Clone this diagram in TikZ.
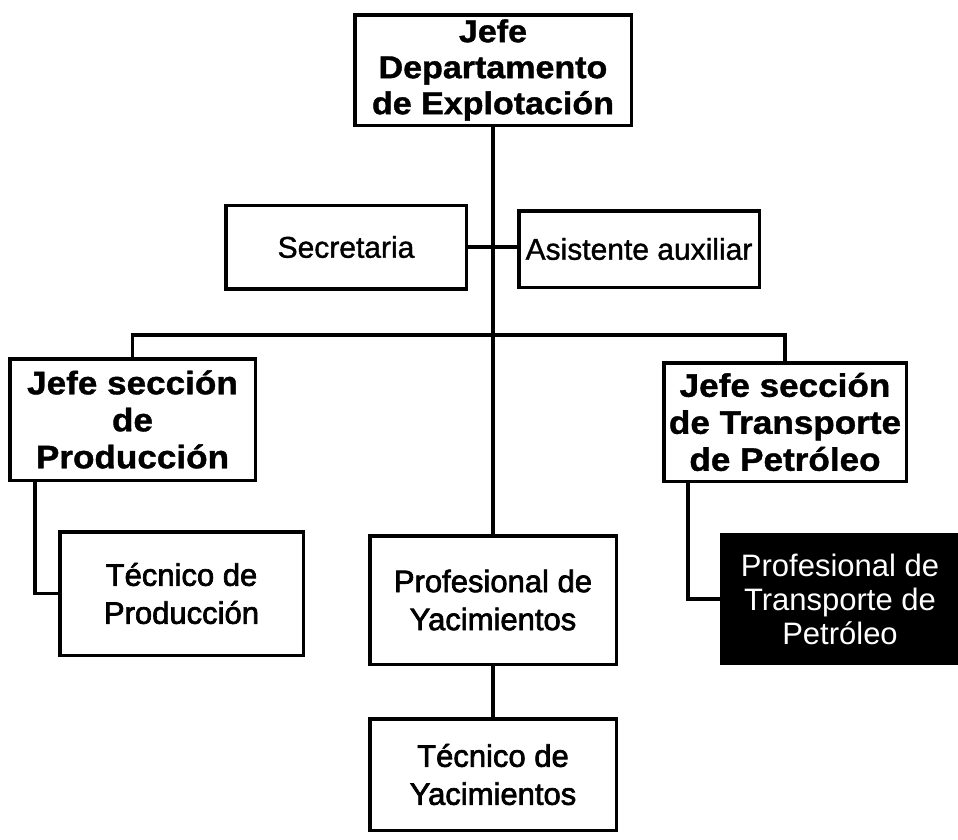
\documentclass[tikz,border=0pt]{standalone}
\usepackage{fontspec}
\setmainfont{Liberation Sans}
\newfontfamily\widesans[FakeStretch=1.08, FakeBold=1.2]{Liberation Sans}
\newfontfamily\medsans[FakeBold=2.2]{Liberation Sans}
\newfontfamily\lightmed[FakeBold=1.2]{Liberation Sans}
\tikzset{
  box/.style={draw, line width=3.5pt, align=center, inner sep=0pt, fill=white},
  headbox/.style={box, font=\widesans\bfseries\fontsize{31.5}{36}\selectfont},
  secbox/.style={box, font=\widesans\bfseries\fontsize{32.5}{37}\selectfont},
  plainbox/.style={box, font=\lightmed\fontsize{30}{34}\selectfont},
  midbox/.style={box, font=\medsans\fontsize{31}{38}\selectfont},
  darkbox/.style={box, fill=black, text=white, font=\fontsize{31}{34}\selectfont},
  link/.style={line width=3.5pt}
}
\begin{document}
\begin{tikzpicture}[x=1pt, y=-1pt]
\useasboundingbox[fill=white] (0,0) rectangle (958,839);

\node[headbox, minimum width=276.5pt, minimum height=110.5pt] (top) at (493,70)
  {Jefe\\Departamento\\de Explotación};
\node[plainbox, minimum width=240.5pt, minimum height=83.5pt] (sec) at (346,247)
  {Secretaria};
\node[plainbox, minimum width=240.5pt, minimum height=76.5pt] (asis) at (639,249)
  {Asistente auxiliar};
\node[secbox, minimum width=245.5pt, minimum height=121.5pt] (prod) at (132.5,419.5)
  {Jefe sección\\de\\Producción};
\node[secbox, minimum width=242.5pt, minimum height=118.5pt] (trans) at (785,422)
  {Jefe sección\\de Transporte\\de Petróleo};
\node[midbox, minimum width=243.5pt, minimum height=123.5pt] (tecp) at (181.5,593.5)
  {Técnico de\\Producción};
\node[midbox, minimum width=246.5pt, minimum height=128.5pt] (profy) at (493,600)
  {Profesional de\\Yacimientos};
\node[midbox, minimum width=246.5pt, minimum height=111.5pt] (tecy) at (493,774.5)
  {Técnico de\\Yacimientos};
\node[darkbox, minimum width=236pt, minimum height=128pt] (ptrans) at (840,599)
  {Profesional de\\Transporte de\\Petróleo};

\coordinate (bus) at (493,335);

\draw[link] (top.south) -- (profy.north);
\draw[link] (sec.east) -- (sec.east -| asis.west);
\draw[link] (prod.north) |- (bus) -| (trans.north);
\draw[link] ([xshift=27pt]prod.south west) |- (tecp.west);
\draw[link] ([xshift=26pt]trans.south west) |- (ptrans.west);
\draw[link] (profy.south) -- (tecy.north);
\end{tikzpicture}
\end{document}
